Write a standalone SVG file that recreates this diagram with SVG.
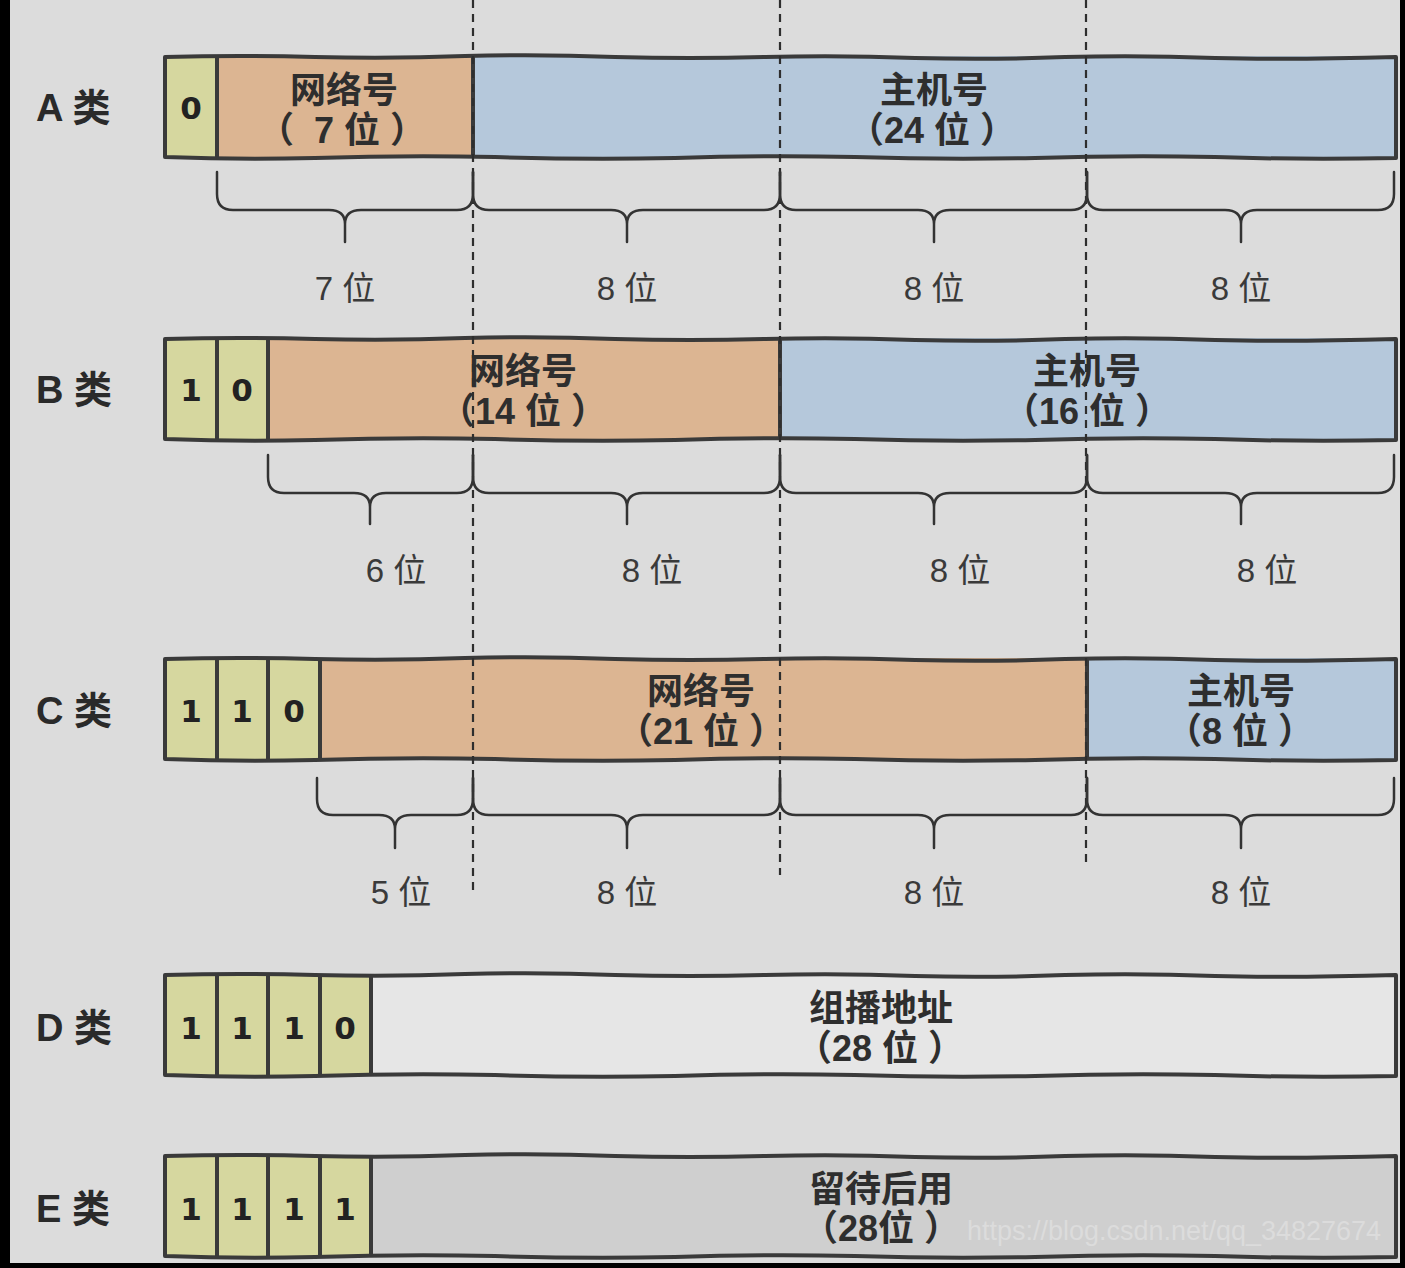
<svg xmlns="http://www.w3.org/2000/svg" xmlns:xlink="http://www.w3.org/1999/xlink" width="1405" height="1268" viewBox="0 0 1405 1268">
<style>
.bg{fill:#dcdcdc}
.blk{fill:#000}
.bit{fill:#d6d79f}
.net{fill:#dcb592}
.host{fill:#b5c8db}
.dfill{fill:#e6e6e6}
.efill{fill:#cfcfcf}
.outline{fill:none;stroke:#3a3a3a;stroke-width:4;stroke-linejoin:round}
.div{stroke:#3a3a3a;stroke-width:4}
.dash{stroke:#2e2e2e;stroke-width:2.2;stroke-dasharray:8 6;fill:none}
.brace{fill:none;stroke:#333;stroke-width:2.5;stroke-linecap:round}
.row{font-family:"Liberation Sans","Noto Sans CJK SC",sans-serif;font-weight:bold;font-size:38px;fill:#2a2a2a}
.digit{font-family:"DejaVu Sans",sans-serif;font-weight:bold;font-size:31px;fill:#222;text-anchor:middle}
.title{font-family:"Liberation Sans","Noto Sans CJK SC",sans-serif;font-weight:bold;font-size:36px;fill:#2e2e2e;text-anchor:middle}
.lbl{font-family:"Liberation Sans","Noto Sans CJK SC",sans-serif;font-size:33px;fill:#3a3a3a;text-anchor:middle}
.wm{font-family:"Liberation Sans",sans-serif;font-size:28px;fill:#dcdcdc}
</style>
<defs>
<path id="box" d="M0,1 Q75,-1 150,1 Q225,3 300,0 Q375,-2 450,1 Q525,3 600,1 Q675,-1 750,2 Q825,4 900,1 Q975,-1 1050,2 Q1125,4 1231,1 L1231,102 Q1140,104 1050,101 Q960,99 870,102 Q780,104 690,101 Q600,99 510,102 Q420,104 330,101 Q240,99 150,102 Q75,104 0,101 Z"/>
</defs>
<rect class="bg" x="0" y="0" width="1405" height="1268"/>

<g id="rowA">
<rect class="bit" x="165" y="56" width="52" height="102"/>
<rect class="net" x="217" y="56" width="256" height="102"/>
<rect class="host" x="473" y="56" width="923" height="102"/>
<use xlink:href="#box" class="outline" transform="translate(165,56)"/>
<line class="div" x1="217" y1="56" x2="217" y2="158"/>
<line class="div" x1="473" y1="56" x2="473" y2="158"/>
<text class="row" x="36" y="121">A 类</text>
<text class="digit" x="191" y="119">0</text>
<text class="title" x="344" y="103">网络号</text>
<text class="title" x="342" y="143">（&#160;&#160;7 位 ）</text>
<text class="title" x="934" y="103">主机号</text>
<text class="title" x="932" y="143">（24 位 ）</text>
</g>

<g id="rowB">
<rect class="bit" x="165" y="338" width="103" height="102"/>
<rect class="net" x="268" y="338" width="512" height="102"/>
<rect class="host" x="780" y="338" width="616" height="102"/>
<use xlink:href="#box" class="outline" transform="translate(165,338)"/>
<line class="div" x1="217" y1="338" x2="217" y2="440"/>
<line class="div" x1="268" y1="338" x2="268" y2="440"/>
<line class="div" x1="780" y1="338" x2="780" y2="440"/>
<text class="row" x="36" y="403">B 类</text>
<text class="digit" x="191" y="401">1</text>
<text class="digit" x="242" y="401">0</text>
<text class="title" x="523" y="384">网络号</text>
<text class="title" x="523" y="424">（14 位 ）</text>
<text class="title" x="1087" y="384">主机号</text>
<text class="title" x="1087" y="424">（16 位 ）</text>
</g>

<g id="rowC">
<rect class="bit" x="165" y="658" width="155" height="102"/>
<rect class="net" x="320" y="658" width="767" height="102"/>
<rect class="host" x="1087" y="658" width="309" height="102"/>
<use xlink:href="#box" class="outline" transform="translate(165,658)"/>
<line class="div" x1="217" y1="658" x2="217" y2="760"/>
<line class="div" x1="268" y1="658" x2="268" y2="760"/>
<line class="div" x1="320" y1="658" x2="320" y2="760"/>
<line class="div" x1="1087" y1="658" x2="1087" y2="760"/>
<text class="row" x="36" y="724">C 类</text>
<text class="digit" x="191" y="722">1</text>
<text class="digit" x="242" y="722">1</text>
<text class="digit" x="294" y="722">0</text>
<text class="title" x="701" y="704">网络号</text>
<text class="title" x="701" y="744">（21 位 ）</text>
<text class="title" x="1241" y="704">主机号</text>
<text class="title" x="1240" y="744">（8 位 ）</text>
</g>

<g id="rowD">
<rect class="bit" x="165" y="974" width="206" height="102"/>
<rect class="dfill" x="371" y="974" width="1025" height="102"/>
<use xlink:href="#box" class="outline" transform="translate(165,974)"/>
<line class="div" x1="217" y1="974" x2="217" y2="1076"/>
<line class="div" x1="268" y1="974" x2="268" y2="1076"/>
<line class="div" x1="320" y1="974" x2="320" y2="1076"/>
<line class="div" x1="371" y1="974" x2="371" y2="1076"/>
<text class="row" x="36" y="1041">D 类</text>
<text class="digit" x="191" y="1039">1</text>
<text class="digit" x="242" y="1039">1</text>
<text class="digit" x="294" y="1039">1</text>
<text class="digit" x="345" y="1039">0</text>
<text class="title" x="881" y="1021">组播地址</text>
<text class="title" x="880" y="1061">（28 位 ）</text>
</g>

<g id="rowE">
<rect class="bit" x="165" y="1155" width="206" height="102"/>
<rect class="efill" x="371" y="1155" width="1025" height="102"/>
<use xlink:href="#box" class="outline" transform="translate(165,1155)"/>
<line class="div" x1="217" y1="1155" x2="217" y2="1257"/>
<line class="div" x1="268" y1="1155" x2="268" y2="1257"/>
<line class="div" x1="320" y1="1155" x2="320" y2="1257"/>
<line class="div" x1="371" y1="1155" x2="371" y2="1257"/>
<text class="row" x="36" y="1222">E 类</text>
<text class="digit" x="191" y="1220">1</text>
<text class="digit" x="242" y="1220">1</text>
<text class="digit" x="294" y="1220">1</text>
<text class="digit" x="345" y="1220">1</text>
<text class="title" x="881" y="1202">留待后用</text>
<text class="title" x="881" y="1241">（28位 ）</text>
<text class="wm" x="967" y="1240" textLength="414" lengthAdjust="spacingAndGlyphs">https://blog.csdn.net/qq_34827674</text>
</g>

<g id="connectors">
<line class="dash" x1="473" y1="0" x2="473" y2="890"/>
<line class="dash" x1="780" y1="0" x2="780" y2="875"/>
<line class="dash" x1="1086" y1="0" x2="1086" y2="865"/>
<path class="brace" d="M217,172 L217,194 Q217,210 233,210 L329,210 Q345,210 345,224 L345,242 M345,224 Q345,210 361,210 L457,210 Q473,210 473,194 L473,172"/>
<path class="brace" d="M473,172 L473,194 Q473,210 489,210 L611,210 Q627,210 627,224 L627,242 M627,224 Q627,210 643,210 L764,210 Q780,210 780,194 L780,172"/>
<path class="brace" d="M780,172 L780,194 Q780,210 796,210 L918,210 Q934,210 934,224 L934,242 M934,224 Q934,210 950,210 L1071,210 Q1087,210 1087,194 L1087,172"/>
<path class="brace" d="M1087,172 L1087,194 Q1087,210 1103,210 L1225,210 Q1241,210 1241,224 L1241,242 M1241,224 Q1241,210 1257,210 L1378,210 Q1394,210 1394,194 L1394,172"/>
<path class="brace" d="M268,455 L268,477 Q268,493 284,493 L354,493 Q370,493 370,507 L370,524 M370,507 Q370,493 386,493 L457,493 Q473,493 473,477 L473,455"/>
<path class="brace" d="M473,455 L473,477 Q473,493 489,493 L611,493 Q627,493 627,507 L627,524 M627,507 Q627,493 643,493 L764,493 Q780,493 780,477 L780,455"/>
<path class="brace" d="M780,455 L780,477 Q780,493 796,493 L918,493 Q934,493 934,507 L934,524 M934,507 Q934,493 950,493 L1071,493 Q1087,493 1087,477 L1087,455"/>
<path class="brace" d="M1087,455 L1087,477 Q1087,493 1103,493 L1225,493 Q1241,493 1241,507 L1241,524 M1241,507 Q1241,493 1257,493 L1378,493 Q1394,493 1394,477 L1394,455"/>
<path class="brace" d="M317,778 L317,799 Q317,815 333,815 L379,815 Q395,815 395,829 L395,848 M395,829 Q395,815 411,815 L457,815 Q473,815 473,799 L473,778"/>
<path class="brace" d="M473,778 L473,799 Q473,815 489,815 L611,815 Q627,815 627,829 L627,848 M627,829 Q627,815 643,815 L764,815 Q780,815 780,799 L780,778"/>
<path class="brace" d="M780,778 L780,799 Q780,815 796,815 L918,815 Q934,815 934,829 L934,848 M934,829 Q934,815 950,815 L1071,815 Q1087,815 1087,799 L1087,778"/>
<path class="brace" d="M1087,778 L1087,799 Q1087,815 1103,815 L1225,815 Q1241,815 1241,829 L1241,848 M1241,829 Q1241,815 1257,815 L1378,815 Q1394,815 1394,799 L1394,778"/>
</g>

<g id="labels">
<text class="lbl" x="345" y="300">7 位</text>
<text class="lbl" x="627" y="300">8 位</text>
<text class="lbl" x="934" y="300">8 位</text>
<text class="lbl" x="1241" y="300">8 位</text>
<text class="lbl" x="396" y="582">6 位</text>
<text class="lbl" x="652" y="582">8 位</text>
<text class="lbl" x="960" y="582">8 位</text>
<text class="lbl" x="1267" y="582">8 位</text>
<text class="lbl" x="401" y="904">5 位</text>
<text class="lbl" x="627" y="904">8 位</text>
<text class="lbl" x="934" y="904">8 位</text>
<text class="lbl" x="1241" y="904">8 位</text>
</g>

<rect class="blk" x="0" y="0" width="10" height="1268"/>
<rect class="blk" x="1400" y="0" width="5" height="1268"/>
<rect class="blk" x="0" y="1263" width="1405" height="5"/>
</svg>
